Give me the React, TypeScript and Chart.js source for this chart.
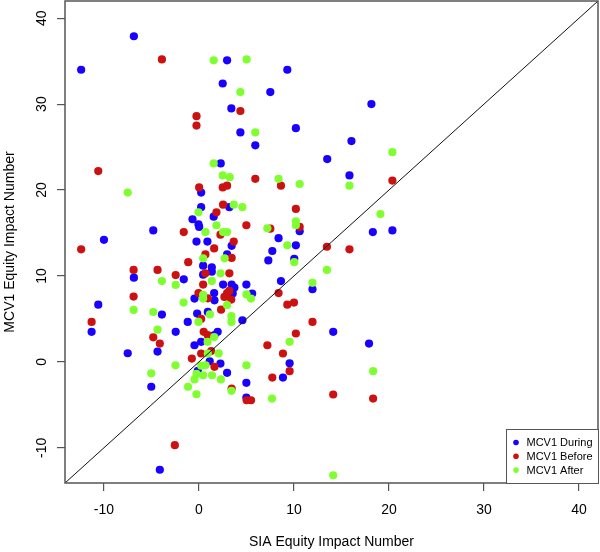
import React, { useEffect, useRef } from 'react';
import { Chart, registerables } from 'chart.js';

Chart.register(...registerables);

const xTitle = 'SIA Equity Impact Number';
const yTitle = 'MCV1 Equity Impact Number';
const seriesNames = ['MCV1 During', 'MCV1 Before', 'MCV1 After'];
const seriesColors = ['#1a00ff', '#cc1111', '#80ff30'];
const axisMin = -14.1;
const axisMax = 42.0;
const tickValues = [-10, 0, 10, 20, 30, 40];

const duringPoints: number[][] = [
  [-6.85, 37.9], [-12.4, 34.0], [2.96, 35.1], [2.5, 32.4], [3.41, 29.5], [4.36, 26.7], [2.29, 23.1], [0.23, 19.7],
  [9.3, 34.0], [7.51, 31.4], [18.15, 30.0], [10.2, 27.2], [5.93, 25.2], [16.05, 25.7], [13.5, 23.6], [15.84, 21.7],
  [0.23, 18.0], [3.2, 18.0], [1.55, 16.9], [-0.68, 16.6], [-0.05, 16.0], [0.02, 15.7], [-4.81, 15.3], [-10.0, 14.2],
  [-0.26, 14.0], [0.89, 14.0], [3.44, 13.5], [2.96, 12.5], [0.44, 11.2], [1.35, 11.0], [1.35, 10.5], [0.44, 10.15],
  [-6.85, 9.8], [-1.6, 9.6], [2.54, 9.0], [3.44, 9.0], [3.73, 8.64], [4.99, 9.0], [1.6, 8.0], [3.55, 7.97],
  [5.6, 7.95], [-0.47, 7.36], [1.63, 7.16], [-10.6, 6.66], [-3.9, 5.5], [-0.19, 5.62], [0.93, 5.81], [-1.18, 4.65],
  [4.57, 4.84], [-11.3, 3.5], [-2.45, 3.5], [1.97, 3.5], [1.63, 3.1], [0.23, 2.33], [-0.47, 1.93], [-7.5, 1.0],
  [-4.36, 1.2], [1.13, 0.07], [2.26, -0.2], [-0.12, -1.05], [2.96, -1.28], [-5.02, -2.9], [4.99, -2.44], [4.99, -4.15],
  [-4.12, -12.56], [8.38, 14.4], [10.2, 13.56], [7.72, 12.9], [7.3, 11.8], [10.03, 12.0], [18.3, 15.1], [20.36, 15.3],
  [11.95, 8.45], [8.63, 9.4], [14.13, 3.5], [17.9, 2.13], [9.54, -0.16], [8.84, -1.83], [10.6, 15.2],
];

const beforePoints: number[][] = [
  [-3.9, 35.2], [4.36, 29.2], [-0.26, 28.6], [-0.26, 27.5], [-10.6, 22.2], [0.02, 20.3], [2.5, 20.3], [2.96, 20.5],
  [5.93, 21.3], [8.63, 20.5], [20.36, 21.1], [2.54, 18.3], [1.84, 17.4], [10.2, 17.8], [10.6, 15.7], [4.99, 15.9],
  [7.51, 15.5], [-1.6, 15.1], [2.26, 14.8], [-12.4, 13.1], [3.66, 14.0], [0.68, 12.5], [1.6, 13.2], [3.44, 12.1],
  [-1.13, 11.6], [0.68, 10.3], [3.2, 10.3], [-2.45, 10.1], [-6.88, 10.7], [-4.36, 10.7], [0.44, 9.0], [-0.05, 8.0],
  [2.96, 8.0], [3.2, 8.26], [0.93, 7.4], [2.68, 7.56], [3.4, 7.25], [-6.88, 7.6], [2.33, 6.07], [0.23, 5.0],
  [-11.3, 4.65], [-4.81, 2.86], [-4.12, 2.13], [0.5, 3.5], [0.93, 3.1], [0.23, 0.97], [1.28, 1.25], [-0.75, 0.38],
  [1.63, -0.58], [3.44, -3.1], [-2.54, -9.7], [13.47, 13.4], [15.84, 13.1], [8.38, 8.0], [9.3, 6.66], [10.0, 6.9],
  [11.95, 4.65], [10.2, 3.3], [7.2, 1.93], [8.84, 0.97], [9.54, -1.09], [7.72, -1.83], [5.02, -4.47], [5.48, -4.47],
  [14.13, -3.8], [18.33, -4.27],
];

const afterPoints: number[][] = [
  [1.55, 35.1], [5.02, 35.2], [4.36, 31.4], [5.93, 26.7], [1.55, 23.1], [2.5, 21.7], [3.24, 21.5], [-7.5, 19.7],
  [20.36, 24.4], [15.84, 20.5], [8.38, 21.3], [10.6, 20.7], [3.66, 18.3], [4.57, 18.0], [-0.05, 17.4], [1.84, 15.9],
  [7.2, 15.55], [0.68, 15.1], [2.54, 15.1], [2.96, 15.1], [10.2, 16.35], [10.2, 15.9], [19.1, 17.2], [9.3, 13.56],
  [10.03, 11.6], [0.44, 12.05], [2.7, 12.05], [2.27, 10.3], [1.35, 9.42], [-2.45, 8.95], [-3.9, 9.4], [0.44, 7.8],
  [5.0, 7.85], [5.48, 7.36], [0.44, 7.36], [-1.62, 6.9], [2.96, 6.6], [-6.88, 6.05], [-4.81, 5.8], [1.15, 5.52],
  [-0.05, 4.65], [3.42, 5.32], [3.42, 4.65], [-4.36, 3.75], [1.6, 2.88], [0.91, 2.33], [0.93, 0.97], [2.07, 0.98],
  [-2.47, -0.4], [0.23, -0.45], [0.7, -0.4], [5.0, -0.4], [-5.02, -1.33], [-0.26, -1.4], [0.44, -1.56], [1.38, -1.56],
  [-0.47, -2.04], [2.31, -2.04], [-1.15, -2.9], [3.42, -3.37], [-0.26, -3.77], [13.47, 10.7], [11.95, 9.2], [9.54, 2.33],
  [18.33, -1.09], [7.69, -4.27], [14.13, -13.2],
];

const FONT = "'Liberation Sans', Arial, Helvetica, sans-serif";

const toXY = (pts: number[][]) => pts.map(([x, y]) => ({ x, y }));

const boxAndLegend = {
  id: 'boxAndLegend',
  afterDraw(chart: any) {
    const { ctx, chartArea } = chart;
    const { left, right, top, bottom } = chartArea;
    ctx.save();
    // plot box
    ctx.strokeStyle = '#555555';
    ctx.lineWidth = 1.5;
    ctx.strokeRect(left, top, right - left, bottom - top);
    // legend
    const lw = 92;
    const lh = 54;
    const lx = right - lw;
    const ly = bottom - lh;
    ctx.fillStyle = '#ffffff';
    ctx.fillRect(lx, ly, lw, lh);
    ctx.strokeStyle = '#555555';
    ctx.lineWidth = 1;
    ctx.strokeRect(lx + 0.5, ly + 0.5, lw, lh);
    ctx.font = `11px ${FONT}`;
    ctx.textBaseline = 'middle';
    ctx.textAlign = 'left';
    seriesNames.forEach((name, i) => {
      const cy = ly + 13.5 + i * 13.8;
      ctx.beginPath();
      ctx.fillStyle = seriesColors[i];
      ctx.arc(lx + 10, cy, 2.8, 0, Math.PI * 2);
      ctx.fill();
      ctx.fillStyle = '#000000';
      ctx.fillText(name, lx + 20.5, cy + 0.5);
    });
    ctx.restore();
  },
};

const zeroPadding = (scale: any) => {
  scale.paddingTop = 0;
  scale.paddingBottom = 0;
  scale.paddingLeft = 0;
  scale.paddingRight = 0;
};

export default function App() {
  const canvasRef = useRef<HTMLCanvasElement | null>(null);

  useEffect(() => {
    if (!canvasRef.current) return;
    const pointStyle = (i: number, order: number) => ({
      type: 'scatter' as const,
      label: seriesNames[i],
      backgroundColor: seriesColors[i],
      borderColor: seriesColors[i],
      borderWidth: 0,
      pointRadius: 4.1,
      pointHoverRadius: 4.1,
      order,
    });
    const chart = new Chart(canvasRef.current, {
      type: 'scatter',
      data: {
        datasets: [
          { ...pointStyle(0, 3), data: toXY(duringPoints) },
          { ...pointStyle(1, 2), data: toXY(beforePoints) },
          { ...pointStyle(2, 1), data: toXY(afterPoints) },
          {
            type: 'line' as const,
            label: 'y = x',
            data: [
              { x: axisMin, y: axisMin },
              { x: axisMax, y: axisMax },
            ],
            borderColor: '#111111',
            borderWidth: 1,
            pointRadius: 0,
            fill: false,
            order: 0,
          } as any,
        ],
      },
      options: {
        responsive: false,
        animation: false,
        devicePixelRatio: 1,
        layout: { padding: { left: 0, right: 2, top: 1, bottom: 0 }, autoPadding: false },
        plugins: { legend: { display: false }, tooltip: { enabled: false } },
        scales: {
          x: {
            type: 'linear',
            min: axisMin,
            max: axisMax,
            afterBuildTicks: (scale: any) => {
              scale.ticks = tickValues.map((v) => ({ value: v }));
            },
            afterFit: (scale: any) => {
              scale.height = 69;
              zeroPadding(scale);
            },
            grid: {
              drawOnChartArea: false,
              drawTicks: true,
              tickLength: 8,
              tickColor: '#555555',
              lineWidth: 1.2,
            },
            border: { display: false },
            ticks: {
              color: '#000000',
              font: { family: FONT, size: 14 },
              padding: 11,
              maxRotation: 0,
              minRotation: 0,
            },
            title: {
              display: true,
              text: xTitle,
              color: '#000000',
              font: { family: FONT, size: 14 },
              padding: { top: 0, bottom: 1 },
            },
          },
          y: {
            type: 'linear',
            min: axisMin,
            max: axisMax,
            afterBuildTicks: (scale: any) => {
              scale.ticks = tickValues.map((v) => ({ value: v }));
            },
            afterFit: (scale: any) => {
              scale.width = 65;
              zeroPadding(scale);
            },
            grid: {
              drawOnChartArea: false,
              drawTicks: true,
              tickLength: 8,
              tickColor: '#555555',
              lineWidth: 1.2,
            },
            border: { display: false },
            ticks: {
              color: '#000000',
              font: { family: FONT, size: 14 },
              padding: 5,
              minRotation: 90,
              maxRotation: 90,
              crossAlign: 'center',
            },
            title: {
              display: true,
              text: yTitle,
              color: '#000000',
              font: { family: FONT, size: 14 },
              padding: { top: 2, bottom: 0 },
            },
          },
        },
      },
      plugins: [boxAndLegend],
    });
    return () => chart.destroy();
  }, []);

  return (
    <div style={{ position: 'fixed', left: 0, top: 0, width: 600, height: 552, background: '#ffffff' }}>
      <canvas ref={canvasRef} width={600} height={552} style={{ width: 600, height: 552, display: 'block' }} />
    </div>
  );
}
